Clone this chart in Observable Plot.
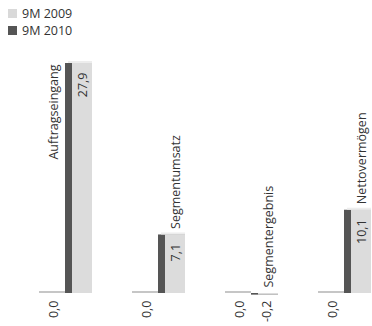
<!DOCTYPE html>
<html>
<head>
<meta charset="utf-8">
<script src="https://cdn.jsdelivr.net/npm/d3@7"></script>
<script src="https://cdn.jsdelivr.net/npm/@observablehq/plot@0.6"></script>
<style>
  html, body { margin: 0; padding: 0; background: #fff; }
  body { width: 372px; height: 326px; overflow: hidden; font-family: "Open Sans", sans-serif; }
  .legend { height: 40px; padding: 5px 0 0 8px; box-sizing: border-box; font-size: 12.5px; color: #333; }
  .legend .row { display: flex; align-items: center; height: 17px; }
  .legend .sw { width: 9px; height: 9px; margin-right: 5px; }
</style>
</head>
<body>
<div class="legend" id="legend"></div>
<div id="chart"></div>
<script>
// Key figures, first nine months, in EUR million
const categories = ["Auftragseingang", "Segmentumsatz", "Segmentergebnis", "Nettovermögen"];
const seriesNames = ["9M 2009", "9M 2010"];
const values2009 = [0.0, 0.0, 0.0, 0.0];
const values2010 = [27.9, 7.1, -0.2, 10.1];

const seriesColors = ["#d9d9d9", "#555555"];
const frontColor = "#dcdcdc";

const rows = [];
categories.forEach((cat, i) => {
  rows.push({cat, series: seriesNames[0], value: values2009[i]});
  rows.push({cat, series: seriesNames[1], value: values2010[i]});
});
const rows2009 = rows.filter(d => d.series === seriesNames[0]);
const rows2010 = rows.filter(d => d.series === seriesNames[1]);

const fmt = v => v.toFixed(1).replace(".", ",");

// legend
const legend = document.getElementById("legend");
seriesNames.forEach((name, i) => {
  const row = document.createElement("div");
  row.className = "row";
  row.innerHTML = `<span class="sw" style="background:${seriesColors[i]}"></span><span>${name}</span>`;
  legend.appendChild(row);
});

const font = {fontFamily: "Open Sans", fontSize: 12.5, fill: "#333"};

const chart = Plot.plot({
  width: 372,
  height: 286,
  marginTop: 23,
  marginBottom: 33,
  marginLeft: 37,
  marginRight: 1,
  style: {fontFamily: "Open Sans", background: "transparent"},
  fx: {domain: categories, paddingInner: 0.421, paddingOuter: 0, axis: null},
  x: {domain: seriesNames, padding: 0, axis: null},
  y: {domain: [0, 27.9], axis: null},
  marks: [
    // flat 2009 columns
    Plot.barY(rows2009, {fx: "cat", x: "series", y: "value", fill: "#c6c6c6", insetTop: -2, insetLeft: 1}),
    // 2010 columns: shaded side and front face
    Plot.barY(rows2010, {fx: "cat", x: "series", y: "value", fill: seriesColors[1]}),
    Plot.barY(rows2010, {fx: "cat", x: "series", y: "value", fill: frontColor, insetLeft: 7}),
    // top face
    Plot.barY(rows2010.filter(d => d.value > 0), {fx: "cat", x: "series", y1: "value", y2: "value", fill: "#ededed", insetTop: -2, insetLeft: 3}),
    // values inside the columns
    Plot.text(rows.filter(d => d.value > 0), {
      fx: "cat", x: "series", y: "value", text: d => fmt(d.value),
      rotate: -90, textAnchor: "end", dy: 9, dx: 3.5, ...font
    }),
    // values of zero or negative columns, below the baseline
    Plot.text(rows.filter(d => d.value <= 0), {
      fx: "cat", x: "series", y: 0, text: d => fmt(d.value),
      rotate: -90, textAnchor: "end", dy: 7, dx: 2, ...font
    }),
    // category names: beside tall columns, above the others
    Plot.text(rows2010.filter(d => d.value > 20), {
      fx: "cat", x: () => seriesNames[0], y: "value", text: "cat",
      rotate: -90, textAnchor: "end", dy: 1, dx: 1.5, ...font
    }),
    Plot.text(rows2010.filter(d => d.value <= 20), {
      fx: "cat", x: "series", y: d => Math.max(d.value, 0), text: "cat",
      rotate: -90, textAnchor: "start", dy: -6, dx: 3.5, ...font
    })
  ]
});
document.getElementById("chart").appendChild(chart);
</script>
</body>
</html>
